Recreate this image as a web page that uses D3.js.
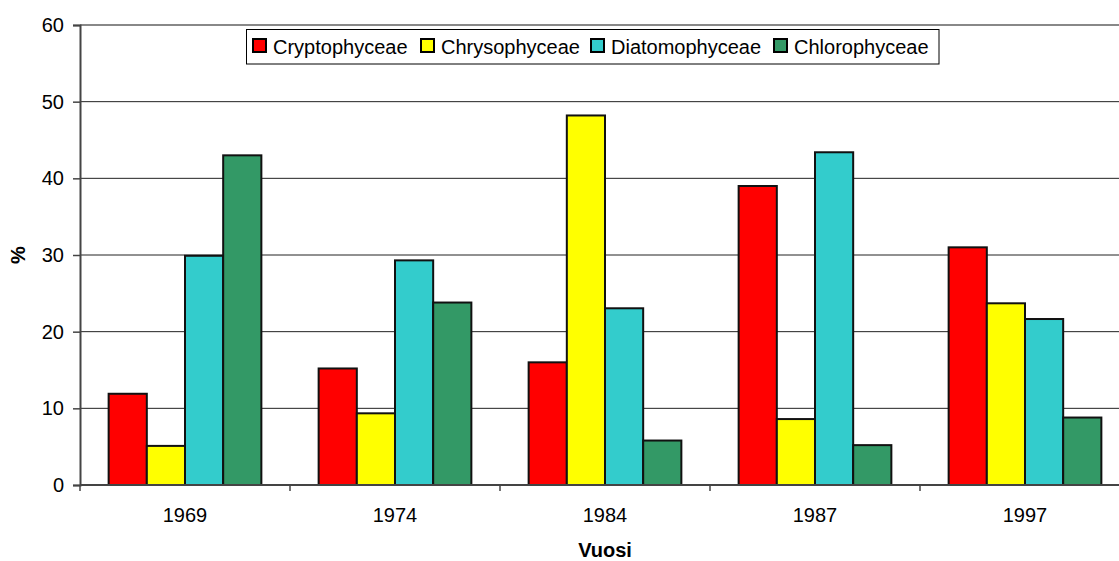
<!DOCTYPE html>
<html>
<head>
<meta charset="utf-8">
<script src="https://cdn.jsdelivr.net/npm/d3@7"></script>
<style>
  html, body { margin: 0; padding: 0; background: #fff; }
  svg { display: block; font-family: Arial, "Liberation Sans", sans-serif; }
</style>
</head>
<body>
<svg id="chart" width="1119" height="561"></svg>
<script>
// Phytoplankton class shares (%) by sampling year
const years = ["1969", "1974", "1984", "1987", "1997"];
const seriesNames = ["Cryptophyceae", "Chrysophyceae", "Diatomophyceae", "Chlorophyceae"];
const cryptophyceae  = [11.9, 15.2, 16.0, 39.0, 31.0];
const chrysophyceae  = [5.1, 9.35, 48.2, 8.6, 23.7];
const diatomophyceae = [29.9, 29.3, 23.05, 43.4, 21.65];
const chlorophyceae  = [43.0, 23.8, 5.8, 5.2, 8.8];
const seriesColors = ["#ff0000", "#ffff00", "#33cccc", "#339966"];
const yTicks = [0, 10, 20, 30, 40, 50, 60];

const seriesValues = [cryptophyceae, chrysophyceae, diatomophyceae, chlorophyceae];
const rows = years.map((yr, i) => ({
  year: yr,
  values: seriesNames.map((s, j) => ({ name: s, value: seriesValues[j][i], color: seriesColors[j] }))
}));

const svg = d3.select("#chart");
const plot = { left: 80, right: 1130, top: 25, bottom: 485 };

const x0 = d3.scaleBand().domain(years).range([plot.left, plot.right]).padding(0);
const x1 = d3.scaleBand().domain(seriesNames).range([0, x0.bandwidth()])
  .paddingInner(0).paddingOuter(0.75);
const y = d3.scaleLinear().domain([0, 60]).range([plot.bottom, plot.top]);

// horizontal gridlines
svg.append("g")
  .selectAll("line")
  .data(yTicks.filter(t => t > 0 && t < 60))
  .join("line")
  .attr("x1", plot.left).attr("x2", plot.right)
  .attr("y1", d => y(d)).attr("y2", d => y(d))
  .attr("stroke", "#222").attr("stroke-width", 1);

// top border of plot area
svg.append("line")
  .attr("x1", plot.left).attr("x2", plot.right)
  .attr("y1", y(60)).attr("y2", y(60))
  .attr("stroke", "#888").attr("stroke-width", 2);

// bars
svg.append("g")
  .selectAll("g")
  .data(rows)
  .join("g")
  .attr("transform", d => `translate(${x0(d.year)},0)`)
  .selectAll("rect")
  .data(d => d.values)
  .join("rect")
  .attr("x", d => x1(d.name))
  .attr("width", x1.bandwidth())
  .attr("y", d => y(d.value))
  .attr("height", d => y(0) - y(d.value))
  .attr("fill", d => d.color)
  .attr("stroke", "#111")
  .attr("stroke-width", 2);

// y axis
const yAxis = svg.append("g")
  .attr("transform", `translate(${plot.left},0)`)
  .call(d3.axisLeft(y).tickValues(yTicks).tickSize(7).tickPadding(9).tickFormat(d3.format("d")));
yAxis.select(".domain").attr("stroke", "#444").attr("stroke-width", 2);
yAxis.selectAll(".tick line").attr("stroke", "#444").attr("stroke-width", 1.5);
yAxis.selectAll("text").attr("font-size", 20).attr("fill", "#000")
  .attr("font-family", "Arial, 'Liberation Sans', sans-serif");

// x axis: ticks at category boundaries, labels centred in each band
const xAxisG = svg.append("g").attr("transform", `translate(0,${plot.bottom})`);
xAxisG.append("line")
  .attr("x1", plot.left).attr("x2", plot.right)
  .attr("y1", 0).attr("y2", 0)
  .attr("stroke", "#444").attr("stroke-width", 2);
const boundaries = years.map(yr => x0(yr)).concat([x0(years[years.length - 1]) + x0.bandwidth()]);
xAxisG.selectAll("line.tk")
  .data(boundaries)
  .join("line")
  .attr("class", "tk")
  .attr("x1", d => d).attr("x2", d => d)
  .attr("y1", 0).attr("y2", 6)
  .attr("stroke", "#444").attr("stroke-width", 1.5);
xAxisG.selectAll("text")
  .data(years)
  .join("text")
  .attr("x", d => x0(d) + x0.bandwidth() / 2)
  .attr("y", 37)
  .attr("text-anchor", "middle")
  .attr("font-size", 20)
  .attr("fill", "#000")
  .text(d => d);

// axis titles
svg.append("text")
  .attr("x", (plot.left + plot.right) / 2)
  .attr("y", 557)
  .attr("text-anchor", "middle")
  .attr("font-size", 20)
  .attr("font-weight", "bold")
  .text("Vuosi");
svg.append("text")
  .attr("transform", `translate(25,${(plot.top + plot.bottom) / 2}) rotate(-90)`)
  .attr("text-anchor", "middle")
  .attr("font-size", 20)
  .attr("font-weight", "bold")
  .text("%");

// legend
const legend = svg.append("g");
legend.append("rect")
  .attr("x", 246.5).attr("y", 29.5)
  .attr("width", 692.5).attr("height", 34.5)
  .attr("fill", "#fff").attr("stroke", "#000").attr("stroke-width", 1);
const legendStarts = [253, 421, 591, 774];
const items = legend.selectAll("g.item")
  .data(seriesNames.map((s, i) => ({ name: s, color: seriesColors[i], x: legendStarts[i] })))
  .join("g")
  .attr("class", "item")
  .attr("transform", d => `translate(${d.x},0)`);
items.append("rect")
  .attr("x", 0).attr("y", 39)
  .attr("width", 13).attr("height", 13)
  .attr("fill", d => d.color)
  .attr("stroke", "#000").attr("stroke-width", 2);
items.append("text")
  .attr("x", 20).attr("y", 53.5)
  .attr("font-size", 20)
  .attr("fill", "#000")
  .text(d => d.name);
</script>
</body>
</html>
